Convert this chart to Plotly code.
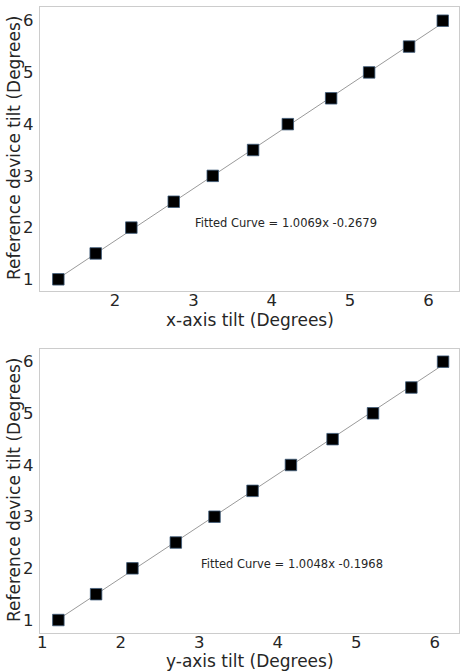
import plotly.graph_objects as go

# Data
ref_tilt = [1.0, 1.5, 2.0, 2.5, 3.0, 3.5, 4.0, 4.5, 5.0, 5.5, 6.0]
x_axis_tilt = [1.276, 1.753, 2.208, 2.749, 3.247, 3.762, 4.205, 4.758, 5.243, 5.753, 6.183]
y_axis_tilt = [1.204, 1.685, 2.148, 2.701, 3.194, 3.679, 4.168, 4.699, 5.214, 5.703, 6.107]
fit_x = (1.0069, -0.2679)
fit_y = (1.0048, -0.1968)
tick_vals = [1, 2, 3, 4, 5, 6]

W, H = 460, 671
FONT = "DejaVu Sans, sans-serif"
TXT = "#262626"

fig = go.Figure()

panels = [
    dict(x=x_axis_tilt, fit=fit_x, xa="x", ya="y", xlabel="x-axis tilt (Degrees)",
         top=7, bottom=291, xr=[1.042, 6.39], yr=[0.774, 6.265]),
    dict(x=y_axis_tilt, fit=fit_y, xa="x2", ya="y2", xlabel="y-axis tilt (Degrees)",
         top=349, bottom=632.7, xr=[0.97, 6.31], yr=[0.755, 6.245]),
]

left, right = 40, 459
layout = dict(
    width=W, height=H, margin=dict(l=0, r=0, t=0, b=0),
    paper_bgcolor="white", plot_bgcolor="white", showlegend=False,
    font=dict(family=FONT, color=TXT),
)
annotations = []
for i, p in enumerate(panels):
    a, b = p["fit"]
    fitted = [a * v + b for v in p["x"]]
    fig.add_trace(go.Scatter(x=p["x"], y=fitted, mode="lines",
                             line=dict(color="#9a9a9a", width=1),
                             xaxis=p["xa"], yaxis=p["ya"], hoverinfo="skip"))
    fig.add_trace(go.Scatter(x=p["x"], y=ref_tilt, mode="markers",
                             marker=dict(symbol="square", size=11.5, color="black",
                                         line=dict(color="#3d5a78", width=0.8)),
                             xaxis=p["xa"], yaxis=p["ya"]))
    suffix = "" if i == 0 else str(i + 1)
    ydom = [1 - p["bottom"] / H, 1 - p["top"] / H]
    axcommon = dict(showline=True, mirror=True, linecolor="#cccccc", linewidth=1.3,
                    showgrid=False, zeroline=False, ticks="", automargin=False,
                    tickfont=dict(size=16.5, color=TXT, family=FONT),
                    tickvals=tick_vals)
    layout["xaxis" + suffix] = dict(axcommon, domain=[left / W, right / W], range=p["xr"],
                                    anchor="y" + suffix, ticklabelstandoff=-6)
    layout["yaxis" + suffix] = dict(axcommon, domain=ydom, range=p["yr"],
                                    anchor="x" + suffix, ticklabelstandoff=2)
    # fitted-curve label
    ann_text = "Fitted Curve = %.4fx %.4f" % (a, b)
    annotations.append(dict(text=ann_text, x=(193 if i == 0 else 199) / W,
                            y=1 - ((222.7 if i == 0 else 564.3) / H),
                            xref="paper", yref="paper", xanchor="left", yanchor="middle",
                            showarrow=False, font=dict(size=11.5, color=TXT, family=FONT)))
    # x-axis title
    annotations.append(dict(text=p["xlabel"], x=250 / W,
                            y=1 - ((320 if i == 0 else 661) / H),
                            xref="paper", yref="paper", xanchor="center", yanchor="middle",
                            showarrow=False, font=dict(size=17, color=TXT, family=FONT)))
    # y-axis title
    annotations.append(dict(text="Reference device tilt (Degrees)", x=14 / W,
                            y=1 - ((148 if i == 0 else 490) / H),
                            xref="paper", yref="paper", xanchor="center", yanchor="middle",
                            textangle=-90, showarrow=False,
                            font=dict(size=17, color=TXT, family=FONT)))

layout["annotations"] = annotations
fig.update_layout(**layout)
fig.write_html("out.html", post_script="document.body.style.margin='0px';",
               config={"displayModeBar": False})
